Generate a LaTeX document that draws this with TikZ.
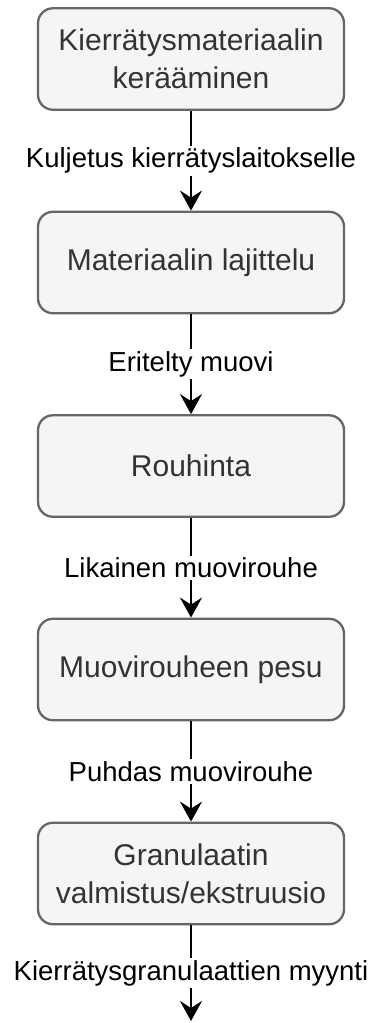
\documentclass[tikz,border=0pt]{standalone}
\usepackage{fontspec}
\setmainfont{Liberation Sans}
\usetikzlibrary{arrows.meta}
\definecolor{boxfill}{HTML}{F5F5F5}
\definecolor{boxdraw}{HTML}{666666}
\definecolor{boxtext}{HTML}{333333}
\begin{document}
\begin{tikzpicture}[x=1pt,y=-1pt,
  stepbox/.style={draw=boxdraw, fill=boxfill, line width=2.3pt, rounded corners=15pt,
    minimum width=306pt, minimum height=101.5pt, text=boxtext, align=center,
    font=\fontsize{30}{38}\selectfont, inner sep=0pt},
  conn/.style={line width=2.6pt, draw=black, -{Stealth[length=20pt,width=22pt,inset=7pt]}},
  lbl/.style={fill=white, text=black, font=\fontsize{27.5}{33}\selectfont, inner sep=2pt}]
\useasboundingbox (0,0) rectangle (374,1023);
\node[stepbox] (b1) at (191,59) {Kierrätysmateriaalin\\kerääminen};
\node[stepbox] (b2) at (191,262.5) {Materiaalin lajittelu};
\node[stepbox] (b3) at (191,466) {Rouhinta};
\node[stepbox] (b4) at (191,669.5) {Muovirouheen pesu};
\node[stepbox] (b5) at (191,873.5) {Granulaatin\\valmistus/ekstruusio};
\coordinate (end) at (191,1021);
\draw[conn] (b1.south) -- node[lbl] {Kuljetus kierrätyslaitokselle} (b2.north);
\draw[conn] (b2.south) -- node[lbl] {Eritelty muovi} (b3.north);
\draw[conn] (b3.south) -- node[lbl] {Likainen muovirouhe} (b4.north);
\draw[conn] (b4.south) -- node[lbl] {Puhdas muovirouhe} (b5.north);
\draw[conn] (b5.south) -- node[lbl] {Kierrätysgranulaattien myynti} (end);
\end{tikzpicture}
\end{document}
